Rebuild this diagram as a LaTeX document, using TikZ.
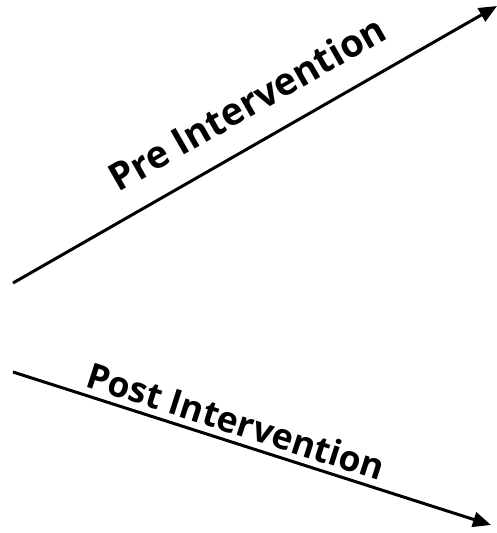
\documentclass[tikz,border=0pt]{standalone}
\usepackage{fontspec}
\setmainfont{Open Sans}
\usetikzlibrary{arrows.meta}
\begin{document}
\begin{tikzpicture}[x=1pt,y=-1pt,
  arr/.style={line width=3pt,-{Triangle[length=18pt,width=15pt]}},
  lbl/.style={font=\fontsize{38}{44}\selectfont\bfseries,inner sep=0pt}]
\useasboundingbox (0,0) rectangle (497,533);
\coordinate (a1) at (13,283);
\coordinate (b1) at (497,6);
\coordinate (a2) at (13,372);
\coordinate (b2) at (491,525);
\draw[arr] (a1) -- (b1);
\draw[arr] (a2) -- (b2);
\node[lbl,rotate=29.8] (pre) at (247,103) {Pre Intervention};
\node[lbl,rotate=-17.8,font=\fontsize{35.5}{42}\selectfont\bfseries] (post) at (236,421) {Post Intervention};
\end{tikzpicture}
\end{document}
